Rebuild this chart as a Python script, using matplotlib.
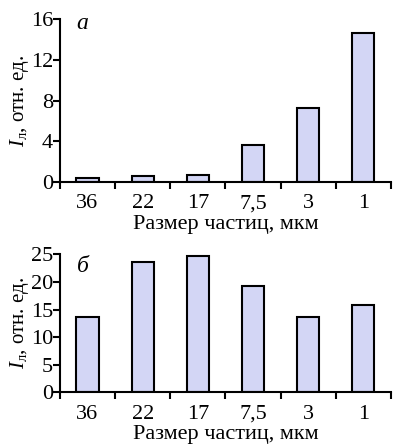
import matplotlib
matplotlib.use("Agg")
import matplotlib.pyplot as plt
import numpy as np

categories = ["36", "22", "17", "7,5", "3", "1"]
values_a = [0.42, 0.55, 0.72, 3.63, 7.23, 14.69]
values_b = [13.6, 23.55, 24.75, 19.25, 13.6, 15.87]
yticks_a = [0, 4, 8, 12, 16]
yticks_b = [0, 5, 10, 15, 20, 25]

plt.rcParams['font.family'] = ['Liberation Serif', 'DejaVu Serif']
plt.rcParams['mathtext.fontset'] = 'custom'
plt.rcParams['mathtext.rm'] = 'Liberation Serif'
plt.rcParams['mathtext.sf'] = 'Liberation Serif'
plt.rcParams['mathtext.it'] = 'Liberation Serif:italic'

fig = plt.figure(figsize=(3.94, 4.46), dpi=100)
ax1 = fig.add_axes([0.152, 0.592, 0.840, 0.365])
ax2 = fig.add_axes([0.152, 0.120, 0.840, 0.310])

fs = 15
face = "#d3d6f5"

def setup(ax, vals, yticks, ymax, letter, letter_y):
    x = np.arange(len(categories))
    ax.bar(x, vals, width=0.4, color=face, edgecolor="black", linewidth=1.5, zorder=2)
    ax.set_xlim(-0.5, len(categories) - 0.5)
    ax.set_ylim(0, ymax)
    ax.set_yticks(yticks)
    ax.set_yticklabels([str(t) for t in yticks], fontsize=fs + 1)
    ax.set_xticks(x)
    ax.set_xticklabels(categories, fontsize=fs + 1)
    ax.tick_params(axis='x', length=0, pad=9)
    ax.set_xticks(np.arange(len(categories) + 1) - 0.5, minor=True)
    ax.tick_params(axis='x', which='minor', length=5, width=1.5, direction='out')
    ax.tick_params(axis='y', length=5, width=1.5, direction='out', pad=0)
    for s in ['top', 'right']:
        ax.spines[s].set_visible(False)
    for s in ['left', 'bottom']:
        ax.spines[s].set_linewidth(1.5)
    ax.set_xlabel("Размер частиц, мкм", fontsize=fs + 1, labelpad=1)
    ax.set_ylabel(r"$I_{\mathsf{л}}$, отн. ед.", fontsize=fs, labelpad=0)
    ax.text(0.051, letter_y, letter, transform=ax.transAxes, fontsize=fs + 2,
            style='italic', va='baseline', ha='left')

setup(ax1, values_a, yticks_a, 16, "а", 0.939)
setup(ax2, values_b, yticks_b, 25, "б", 0.870)

fig.savefig("out.png", dpi=100)
